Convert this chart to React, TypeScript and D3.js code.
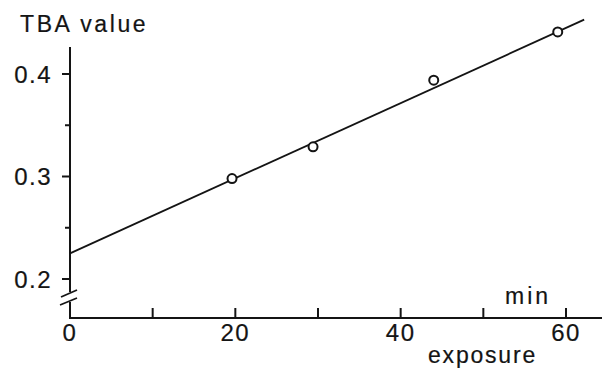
import React from "react";
import * as d3 from "d3";

const pointX = [19.6, 29.4, 44.0, 59.0];
const pointY = [0.298, 0.329, 0.394, 0.441];
const fitX = [0, 62.2];
const fitY = [0.225, 0.453];
const xTicks = [0, 10, 20, 30, 40, 50, 60];
const xTickLabels = [0, 20, 40, 60];
const yTicks = [0.2, 0.3, 0.4];
const yMinorTicks = [0.25, 0.35];

const W = 602;
const H = 369;
const FONT = "'Liberation Sans', Arial, Helvetica, sans-serif";
const INK = "#141414";

export default function App() {
  const x = d3.scaleLinear().domain([0, 60]).range([70, 566]);
  const y = d3.scaleLinear().domain([0.2, 0.4]).range([279, 74]);
  const axisY = 318;
  const line = d3
    .line<number>()
    .x((d, i) => x(fitX[i]))
    .y((d, i) => y(fitY[i]));
  const fmt = d3.format(".1f");
  const textProps = {
    fontFamily: FONT,
    fill: INK,
    stroke: INK,
    strokeWidth: 0.2,
  };

  return (
    <svg
      width={W}
      height={H}
      style={{ position: "absolute", left: 0, top: 0, background: "#fff" }}
    >
      {/* y axis */}
      <line x1={x(0)} x2={x(0)} y1={47} y2={292} stroke={INK} strokeWidth={2} />
      <line x1={x(0)} x2={x(0)} y1={302} y2={axisY} stroke={INK} strokeWidth={2} />
      {/* break marks */}
      <line x1={61} y1={297} x2={77} y2={290} stroke={INK} strokeWidth={1.8} />
      <line x1={60} y1={305} x2={77} y2={298} stroke={INK} strokeWidth={1.8} />
      {/* x axis */}
      <line x1={x(0) - 1} x2={W} y1={axisY} y2={axisY} stroke={INK} strokeWidth={2} />
      {xTicks.filter((t) => t !== 0).map((t) => (
        <line key={t} x1={x(t)} x2={x(t)} y1={axisY} y2={axisY - 10} stroke={INK} strokeWidth={2} />
      ))}
      {xTickLabels.map((t) => (
        <text key={t} x={x(t)} y={341} textAnchor="middle" fontSize={24} letterSpacing={1.5} {...textProps}>
          {t}
        </text>
      ))}
      {yTicks.map((t) => (
        <g key={t}>
          <line x1={x(0) - 8} x2={x(0)} y1={y(t)} y2={y(t)} stroke={INK} strokeWidth={2} />
          <text x={52} y={y(t) + 8.5} textAnchor="end" fontSize={24} letterSpacing={1.5} {...textProps}>
            {fmt(t)}
          </text>
        </g>
      ))}
      {yMinorTicks.map((t) => (
        <line key={t} x1={x(0) - 5} x2={x(0)} y1={y(t)} y2={y(t)} stroke={INK} strokeWidth={2} />
      ))}
      {/* fit line */}
      <path d={line(fitX) || ""} fill="none" stroke={INK} strokeWidth={1.8} />
      {/* points */}
      {pointX.map((px, i) => (
        <circle key={i} cx={x(px)} cy={y(pointY[i])} r={4.5} fill="#fff" stroke={INK} strokeWidth={2} />
      ))}
      {/* titles */}
      <text x={20} y={32} fontSize={23} letterSpacing={2.6} {...textProps}>
        TBA value
      </text>
      <text x={505} y={304} fontSize={23} letterSpacing={3} {...textProps}>
        min
      </text>
      <text x={428} y={363} fontSize={23} letterSpacing={1.8} {...textProps}>
        exposure
      </text>
    </svg>
  );
}
